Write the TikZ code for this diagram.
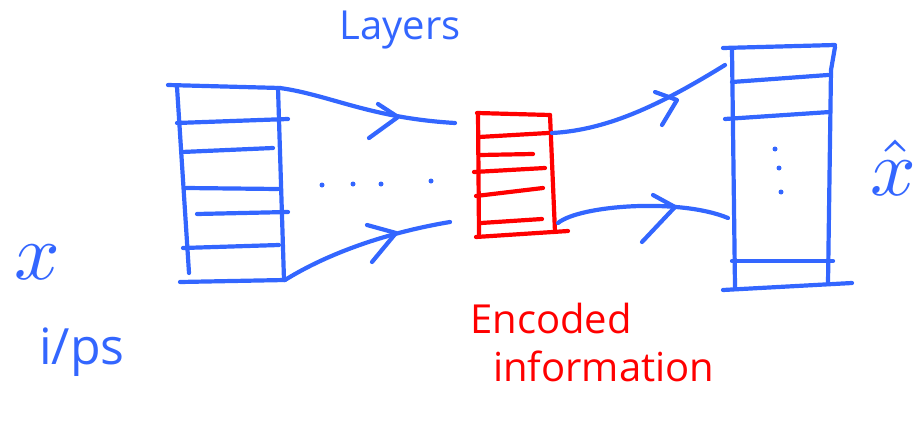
\documentclass[tikz,border=0pt]{standalone}
\usepackage{fontspec}
\setmainfont{Open Sans}
\begin{document}
\begin{tikzpicture}[x=1pt,y=-1pt,
  pen/.style={line width=4.2pt,line cap=round,line join=round},
  bluepen/.style={pen,draw=inkblue},
  redpen/.style={pen,draw=inkred},
  dotmark/.style={circle,fill=inkblue,inner sep=0pt,minimum size=5pt},
  label/.style={inner sep=0pt,font=\fontsize{40}{40}\selectfont},
  mathlabel/.style={inner sep=0pt,text=inkblue,scale=8}
]
\definecolor{inkblue}{RGB}{51,102,255}
\definecolor{inkred}{RGB}{255,0,0}
\useasboundingbox (0,0) rectangle (915,431);

% ---- input stack (left) ----
\coordinate (inTL) at (168,85);
\coordinate (inTR) at (280,88);
\coordinate (inBR) at (285,280);
\coordinate (inBL) at (180,282);
\draw[bluepen] (inTL) -- (inTR);
\draw[bluepen] (177,87) -- (189,273);
\draw[bluepen] (278,88) -- (284,280);
\draw[bluepen] (inBL) -- (inBR);
\draw[bluepen] (177,123) -- (288,119);
\draw[bluepen] (182,152) -- (273,148);
\draw[bluepen] (186,188) -- (278,189);
\draw[bluepen] (197,214) -- (288,212);
\draw[bluepen] (183,248) -- (279,245);

% ---- bottleneck (red) ----
\coordinate (enTL) at (477,113);
\coordinate (enTR) at (552,133);
\coordinate (enBR) at (558,223);
\coordinate (enBL) at (476,237);
\draw[redpen] (477,113) -- (550,115);
\draw[redpen] (478,113) -- (479,235);
\draw[redpen] (550,115) -- (555,232);
\draw[redpen] (476,237) -- (568,231);
\draw[redpen] (479,137) -- (548,133);
\draw[redpen] (480,155) -- (533,154);
\draw[redpen] (474,172) -- (545,168);
\draw[redpen] (476,196) -- (543,188);
\draw[redpen] (481,223) -- (542,219);

% ---- reconstruction stack (right) ----
\coordinate (outTL) at (725,65);
\coordinate (outML) at (728,218);
\draw[bluepen] (723,48) -- (835,45);
\draw[bluepen] (732,50) -- (735,287);
\draw[bluepen] (835,47) -- (831,70) -- (828,283);
\draw[bluepen] (723,290) -- (852,283);
\draw[bluepen] (732,82) -- (828,75);
\draw[bluepen] (725,119) -- (830,112);
\draw[bluepen] (732,261) -- (833,261);
\node[dotmark] (od1) at (775,149) {};
\node[dotmark] (od2) at (779,168) {};
\node[dotmark] (od3) at (781,192) {};

% ---- connectors: encoder ----
\coordinate (encA) at (455,123);
\coordinate (encB) at (450,222);
\draw[bluepen] (inTR) .. controls (330,95) and (370,118) .. (encA);
\draw[bluepen] (378,104) -- (398,117) -- (369,138);
\draw[bluepen] (inBR) .. controls (330,252) and (390,232) .. (encB);
\draw[bluepen] (367,225) -- (396,233) -- (372,262);
\node[dotmark] (md1) at (322,185) {};
\node[dotmark] (md2) at (353,184) {};
\node[dotmark] (md3) at (381,184) {};
\node[dotmark] (md4) at (431,181) {};

% ---- connectors: decoder ----
\draw[bluepen] (enTR) .. controls (610,130) and (665,102) .. (outTL);
\draw[bluepen] (655,92) -- (677,100) -- (662,125);
\draw[bluepen] (enBR) .. controls (580,205) and (680,198) .. (outML);
\draw[bluepen] (653,195) -- (675,207) -- (642,242);

% ---- labels ----
\node[label,text=inkblue] (layers) at (400,30) {Layers};
\node[label,text=inkred,anchor=west] (enc) at (470,318) {Encoded};
\node[label,text=inkred,anchor=west] (info) at (493,366) {information};
\node[label,text=inkblue,font=\fontsize{50}{50}\selectfont] (ips) at (82,352) {i/ps};
\node[mathlabel] (xin) at (37,262) {$x$};
\node[mathlabel] (xout) at (893,168) {$\hat{x}$};
\end{tikzpicture}
\end{document}
